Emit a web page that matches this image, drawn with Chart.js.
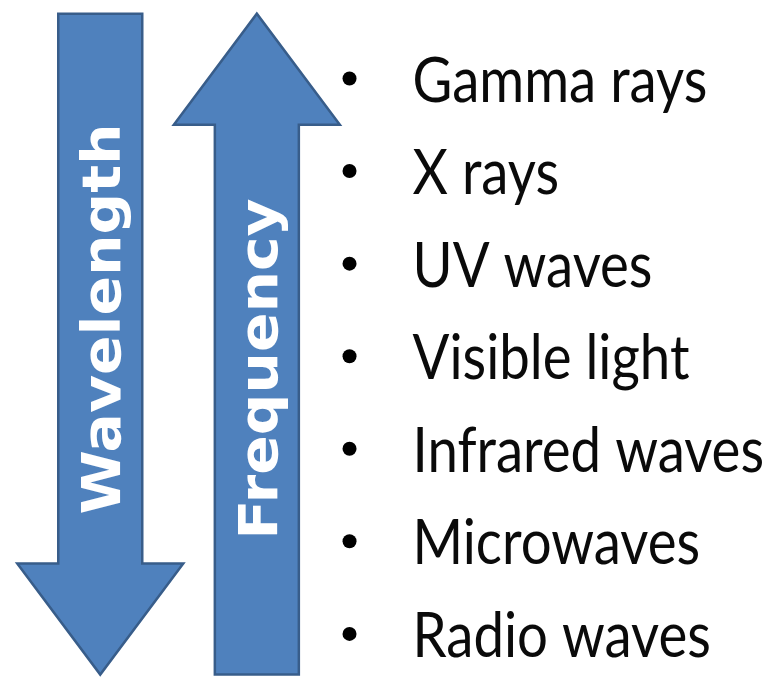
<!DOCTYPE html>
<html>
<head>
<meta charset="utf-8">
<script src="https://cdn.jsdelivr.net/npm/chart.js@4/dist/chart.umd.min.js"></script>
<style>
  html, body { margin: 0; padding: 0; background: #ffffff; }
  #wrap { width: 763px; height: 683px; }
</style>
</head>
<body>
<div id="wrap"><canvas id="c" width="763" height="683"></canvas></div>
<script>
// Electromagnetic spectrum, ordered from highest to lowest frequency
const bands = ['Gamma rays', 'X rays', 'UV waves', 'Visible light', 'Infrared waves', 'Microwaves', 'Radio waves'];

// The two trend arrows, measured along the band order (index 0 = Gamma rays)
const arrowNames = ['Wavelength', 'Frequency'];
const arrowFrom = [-0.7, 6.44];   // tail
const arrowTo   = [6.44, -0.7];   // tip

// Layout and style constants
const BULLET_X = 1.592;
const HEAD_LEN = 111;
const HEAD_HALF = 83;
const SHAFT_W = 84;
const FILL = '#4F81BD';
const EDGE = '#385D8A';
const LABEL_CENTER = [319, 369];
const LABEL_STRETCH = 1.1;
const TEXT_SQUEEZE = 0.88;

const arrowPlugin = {
  id: 'arrowShapes',
  afterDatasetsDraw(chart) {
    const ctx = chart.ctx;
    const yScale = chart.scales.y;
    const meta = chart.getDatasetMeta(0);
    meta.data.forEach((bar, i) => {
      const x = bar.x;
      const half = bar.width / 2;
      const yTail = yScale.getPixelForValue(arrowFrom[i]);
      const yTip = yScale.getPixelForValue(arrowTo[i]);
      const dir = yTip > yTail ? 1 : -1;
      const yBase = yTip - dir * HEAD_LEN;
      ctx.save();
      ctx.beginPath();
      ctx.moveTo(x - half, yTail);
      ctx.lineTo(x + half, yTail);
      ctx.lineTo(x + half, yBase);
      ctx.lineTo(x + HEAD_HALF, yBase);
      ctx.lineTo(x, yTip);
      ctx.lineTo(x - HEAD_HALF, yBase);
      ctx.lineTo(x - half, yBase);
      ctx.closePath();
      ctx.fillStyle = FILL;
      ctx.fill();
      ctx.lineWidth = 2.5;
      ctx.lineJoin = 'miter';
      ctx.strokeStyle = EDGE;
      ctx.stroke();

      // rotated label along the shaft
      ctx.translate(x, LABEL_CENTER[i]);
      ctx.rotate(-Math.PI / 2);
      ctx.scale(LABEL_STRETCH, 1);
      ctx.fillStyle = '#ffffff';
      ctx.font = 'bold 53px "DejaVu Sans"';
      ctx.textAlign = 'center';
      ctx.textBaseline = 'alphabetic';
      ctx.fillText(arrowNames[i], 0, 20);
      ctx.restore();
    });

    // band names beside the bullets
    const bMeta = chart.getDatasetMeta(1);
    ctx.save();
    ctx.fillStyle = '#0a0a0a';
    ctx.font = '62px Lato';
    ctx.textAlign = 'left';
    ctx.textBaseline = 'alphabetic';
    bMeta.data.forEach((pt, i) => {
      ctx.save();
      ctx.translate(pt.x + 63, pt.y + 23);
      ctx.scale(TEXT_SQUEEZE, 1);
      ctx.fillText(bands[i], 0, 0);
      ctx.restore();
    });
    ctx.restore();
  }
};

new Chart(document.getElementById('c'), {
  type: 'bar',
  data: {
    labels: arrowNames,
    datasets: [
      {
        label: 'trend',
        data: arrowNames.map((n, i) => ({ x: i, y: [arrowFrom[i], arrowTo[i]] })),
        backgroundColor: 'rgba(0,0,0,0)',
        borderWidth: 0,
        barThickness: SHAFT_W
      },
      {
        type: 'scatter',
        label: 'bands',
        data: bands.map((b, i) => ({ x: BULLET_X, y: i })),
        pointRadius: 7,
        pointBackgroundColor: '#000000',
        pointBorderColor: '#000000',
        pointBorderWidth: 0
      }
    ]
  },
  plugins: [arrowPlugin],
  options: {
    responsive: false,
    animation: false,
    events: [],
    layout: { padding: 0 },
    plugins: { legend: { display: false }, tooltip: { enabled: false } },
    scales: {
      x: { type: 'linear', display: false, offset: false, min: -0.5956, max: 4.188 },
      y: { type: 'linear', display: false, reverse: true, min: -0.7725, max: 6.455 }
    }
  }
});
</script>
</body>
</html>
